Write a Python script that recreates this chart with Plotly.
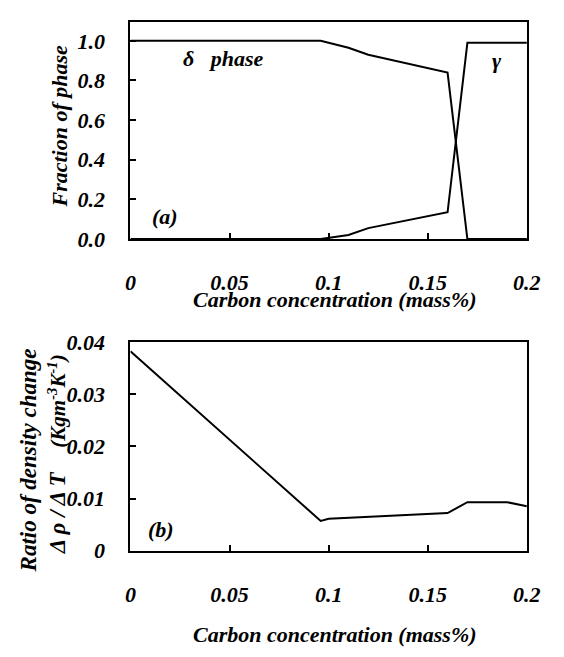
import plotly.graph_objects as go

W, H = 564, 657

# ---- data (a) fraction of phase ----
x_a = [0.0, 0.096, 0.11, 0.12, 0.16, 0.17, 0.2]
delta_frac = [1.0, 1.0, 0.965, 0.93, 0.84, 0.0, 0.0]
gamma_frac = [0.0, 0.0, 0.02, 0.055, 0.135, 0.99, 0.99]

# ---- data (b) ratio of density change ----
x_b = [0.0, 0.096, 0.1, 0.16, 0.17, 0.19, 0.2]
ratio = [0.0382, 0.0057, 0.0061, 0.0072, 0.0093, 0.0093, 0.0085]

x_ticks = [0, 0.05, 0.1, 0.15, 0.2]
x_ticktext = ["0", "0.05", "0.1", "0.15", "0.2"]
ya_ticks = [0, 0.2, 0.4, 0.6, 0.8, 1.0]
ya_ticktext = ["0.0", "0.2", "0.4", "0.6", "0.8", "1.0"]
yb_ticks = [0, 0.01, 0.02, 0.03, 0.04]
yb_ticktext = ["0", "0.01", "0.02", "0.03", "0.04"]

FONT = "Liberation Serif"

def px(x):
    return x / W

def py(y):
    return 1 - y / H

fig = go.Figure()
line = dict(color="black", width=2)
fig.add_trace(go.Scatter(x=x_a, y=delta_frac, mode="lines", line=line, xaxis="x", yaxis="y", showlegend=False))
fig.add_trace(go.Scatter(x=x_a, y=gamma_frac, mode="lines", line=line, xaxis="x", yaxis="y", showlegend=False))
fig.add_trace(go.Scatter(x=x_b, y=ratio, mode="lines", line=line, xaxis="x2", yaxis="y2", showlegend=False))

tickfont = dict(family=FONT, size=22, color="black", weight="bold", style="italic")
common_x = dict(range=[0, 0.2], showline=True, mirror=True, linecolor="black", linewidth=2,
                ticks="inside", ticklen=6, tickwidth=2, tickcolor="black", showgrid=False,
                zeroline=False, tickvals=x_ticks, ticktext=x_ticktext, tickfont=tickfont,
                ticklabelstandoff=23)
common_y = dict(showline=True, mirror=True, linecolor="black", linewidth=2,
                ticks="inside", ticklen=6, tickwidth=2, tickcolor="black", showgrid=False,
                zeroline=False, tickfont=tickfont, ticklabelstandoff=19)

xd = [px(129), px(540)]
fig.update_layout(
    width=W, height=H, margin=dict(l=0, r=0, t=0, b=0),
    paper_bgcolor="white", plot_bgcolor="white",
    font=dict(family=FONT, color="black", size=22),
    xaxis=dict(domain=xd, anchor="y", **common_x),
    yaxis=dict(domain=[py(236), py(10)], anchor="x", range=[0, 1.097],
               tickvals=ya_ticks, ticktext=ya_ticktext, **common_y),
    xaxis2=dict(domain=xd, anchor="y2", **common_x),
    yaxis2=dict(domain=[py(560), py(343)], anchor="x2", range=[0, 0.04],
                tickvals=yb_ticks, ticktext=yb_ticktext, **common_y),
)

def ann(text, x, y, size, angle=0, xanchor="center"):
    fig.add_annotation(text=text, x=px(x), y=py(y), xref="paper", yref="paper",
                       showarrow=False, textangle=angle, xanchor=xanchor, yanchor="middle",
                       font=dict(family=FONT, size=size, color="black", weight="bold", style="italic"))

ann("Carbon concentration (mass%)", 341, 299, 22)
ann("Carbon concentration (mass%)", 341, 647, 22)
ann("Fraction of phase", 55, 119, 22, angle=-90)
ann("Ratio of density change", 23, 466, 23, angle=-90)
ann("Δ ρ / Δ T", 53, 521, 23, angle=-90)
ann("(Kgm<sup>-3</sup>K<sup>-1</sup>)", 53, 405, 21, angle=-90)
ann("δ\u00a0\u00a0 phase", 181, 48, 22, xanchor="left")
ann("γ", 509, 50, 22)
ann("(a)", 165, 213, 22)
ann("(b)", 161, 538, 22)

fig.write_html("out.html")
